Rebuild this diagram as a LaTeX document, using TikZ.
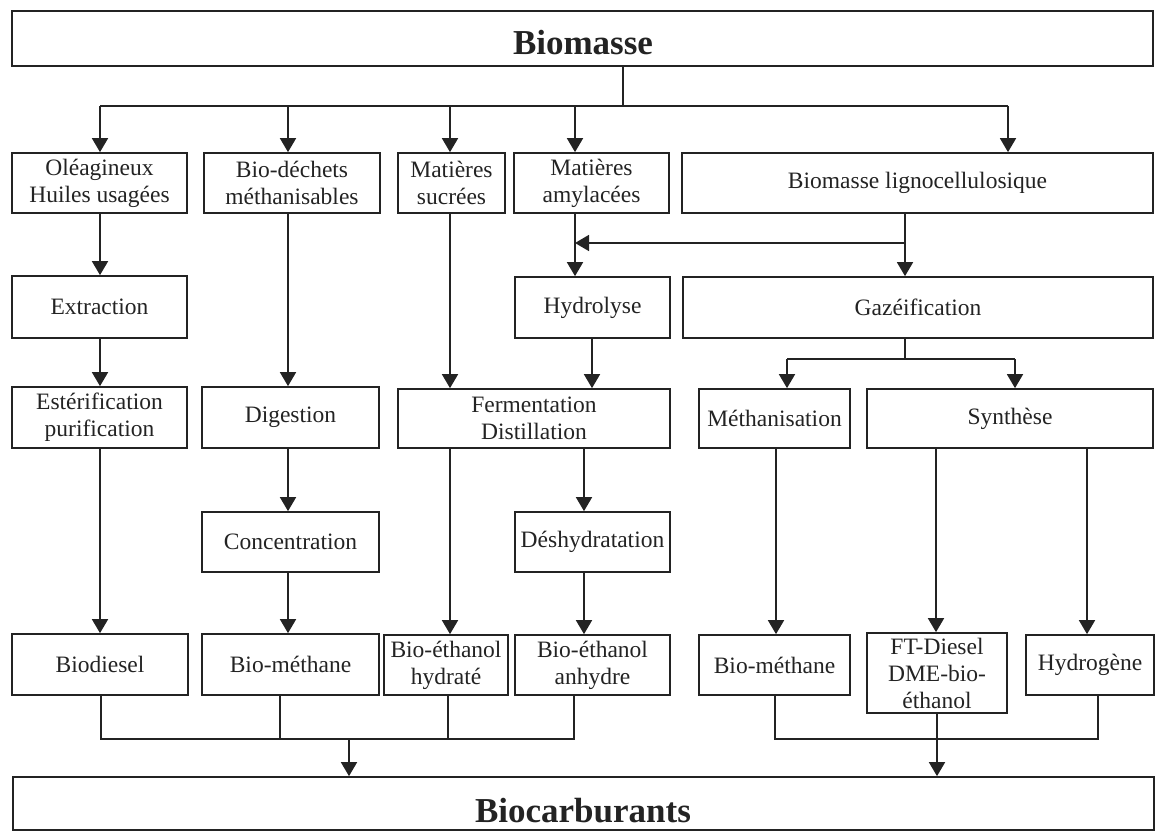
\documentclass[tikz,border=0pt]{standalone}
\usepackage{fontspec}
\setmainfont{Liberation Serif}
\usetikzlibrary{arrows.meta}
\definecolor{ink}{RGB}{35,35,35}
\tikzset{
  box/.style={draw=ink, line width=1.7pt, rectangle, inner sep=1pt, align=center, text=ink, font=\fontsize{23.5}{27}\selectfont},
  big/.style={text=ink, font=\fontsize{35}{40}\selectfont\bfseries, inner sep=0pt, anchor=base},
  line/.style={draw=ink, line width=1.7pt, line join=miter},
  arr/.style={line, -{Triangle[length=14pt,width=16pt]}},
}
\newcommand\bx[6]{\node[box, minimum width={(#4-#2)*1pt}, minimum height={(#5-#3)*1pt}] (#1) at ({(#2+#4)/2},{(#3+#5)/2}) {#6};}
\begin{document}
\begin{tikzpicture}[x=1pt,y=-1pt]
\useasboundingbox (0,0) rectangle (1155,832);
% boxes
\bx{biomasse}{12}{11}{1153}{66}{}
\node[big] (biomassetxt) at (583,55) {Biomasse};
\bx{ole}{12}{153}{187}{213}{Oléagineux\\Huiles usagées}
\bx{dech}{204}{153}{380}{213}{Bio-déchets\\méthanisables}
\bx{sucr}{398}{153}{505}{213}{Matières\\sucrées}
\bx{amyl}{514}{153}{669}{213}{Matières\\amylacées}
\bx{ligno}{682}{153}{1153}{213}{Biomasse lignocellulosique}
\bx{extr}{12}{276}{187}{338}{Extraction}
\bx{hydro}{515}{277}{670}{338}{Hydrolyse}
\bx{gaz}{683}{277}{1153}{338}{Gazéification}
\bx{ester}{12}{387}{187}{448}{Estérification\\purification}
\bx{dig}{202}{387}{379}{448}{Digestion}
\bx{ferm}{398}{389}{670}{448}{Fermentation\\Distillation}
\bx{meth}{699}{389}{850}{448}{Méthanisation}
\bx{synth}{867}{389}{1153}{448}{Synthèse}
\bx{conc}{202}{512}{379}{572}{Concentration}
\bx{desh}{515}{512}{670}{572}{Déshydratation}
\bx{biod}{12}{634}{188}{695}{Biodiesel}
\bx{biomA}{202}{634}{379}{695}{Bio-méthane}
\bx{hyd}{384}{635}{508}{695}{Bio-éthanol\\hydraté}
\bx{anh}{515}{635}{670}{695}{Bio-éthanol\\anhydre}
\bx{biomB}{699}{635}{850}{695}{Bio-méthane}
\bx{ft}{867}{633}{1007}{713}{FT-Diesel\\DME-bio-\\éthanol}
\bx{htwo}{1026}{635}{1154}{695}{Hydrogène}
\bx{biocarb}{13}{777}{1154}{830}{}
\node[big] (biocarbtxt) at (583,822) {Biocarburants};
% column coordinates
\coordinate (top) at (623,106);
\coordinate (c1) at (100,0);
\coordinate (c2) at (288,0);
\coordinate (c3) at (450,0);
\coordinate (c4) at (575,0);
\coordinate (c5) at (1008,0);
\coordinate (c6) at (592,0);
\coordinate (c7) at (584,0);
\coordinate (c8) at (787,0);
\coordinate (c9) at (1015,0);
\coordinate (c10) at (776,0);
\coordinate (c11) at (936,0);
\coordinate (c12) at (1087,0);
\coordinate (lsplit) at (905,243);
\coordinate (gj) at (905,359);
\coordinate (b1) at (101,0);
\coordinate (b2) at (280,0);
\coordinate (b3) at (448,0);
\coordinate (b4) at (574,0);
\coordinate (jl) at (349,739);
\coordinate (b5) at (775,0);
\coordinate (b6) at (1098,0);
\coordinate (jr) at (937,739);
% top distribution
\draw[line] (biomasse.south -| top) -- (top);
\draw[line] (c1 |- top) -- (c5 |- top);
\draw[arr] (c1 |- top) -- (ole.north -| c1);
\draw[arr] (c2 |- top) -- (dech.north -| c2);
\draw[arr] (c3 |- top) -- (sucr.north -| c3);
\draw[arr] (c4 |- top) -- (amyl.north -| c4);
\draw[arr] (c5 |- top) -- (ligno.north -| c5);
% left column
\draw[arr] (ole.south -| c1) -- (extr.north -| c1);
\draw[arr] (extr.south -| c1) -- (ester.north -| c1);
\draw[arr] (ester.south -| c1) -- (biod.north -| c1);
% bio-dechets column
\draw[arr] (dech.south -| c2) -- (dig.north -| c2);
\draw[arr] (dig.south -| c2) -- (conc.north -| c2);
\draw[arr] (conc.south -| c2) -- (biomA.north -| c2);
% sucrees / amylacees
\draw[arr] (sucr.south -| c3) -- (ferm.north -| c3);
\draw[arr] (ferm.south -| c3) -- (hyd.north -| c3);
\draw[arr] (amyl.south -| c4) -- (hydro.north -| c4);
\draw[arr] (hydro.south -| c6) -- (ferm.north -| c6);
\draw[arr] (ferm.south -| c7) -- (desh.north -| c7);
\draw[arr] (desh.south -| c7) -- (anh.north -| c7);
% lignocellulosique
\draw[arr] (ligno.south -| lsplit) -- (gaz.north -| lsplit);
\draw[arr] (lsplit) -- (lsplit -| c4);
\draw[line] (gaz.south -| gj) -- (gj);
\draw[line] (c8 |- gj) -- (c9 |- gj);
\draw[arr] (c8 |- gj) -- (meth.north -| c8);
\draw[arr] (c9 |- gj) -- (synth.north -| c9);
\draw[arr] (meth.south -| c10) -- (biomB.north -| c10);
\draw[arr] (synth.south -| c11) -- (ft.north -| c11);
\draw[arr] (synth.south -| c12) -- (htwo.north -| c12);
% bottom merge left
\draw[line] (biod.south -| b1) -- (b1 |- jl) -- (b4 |- jl) -- (anh.south -| b4);
\draw[line] (biomA.south -| b2) -- (b2 |- jl);
\draw[line] (hyd.south -| b3) -- (b3 |- jl);
\draw[arr] (jl) -- (biocarb.north -| jl);
% bottom merge right
\draw[line] (biomB.south -| b5) -- (b5 |- jr) -- (b6 |- jr) -- (htwo.south -| b6);
\draw[arr] (ft.south -| jr) -- (biocarb.north -| jr);
\end{tikzpicture}
\end{document}
